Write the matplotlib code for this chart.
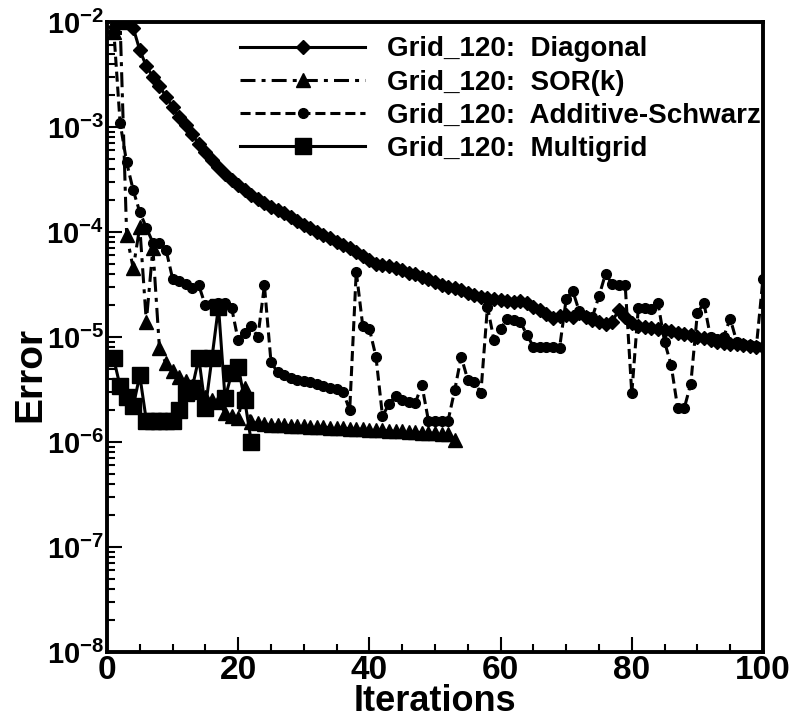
import matplotlib.pyplot as plt
import matplotlib.ticker as mticker
import numpy as np

plt.rcParams['font.family'] = ['Liberation Sans', 'DejaVu Sans']
plt.rcParams['font.weight'] = 'bold'
plt.rcParams['mathtext.fontset'] = 'custom'
plt.rcParams['mathtext.rm'] = 'Liberation Sans:bold'
plt.rcParams['mathtext.bf'] = 'Liberation Sans:bold'

# Grid_120: Diagonal, iterations 1..100
diagonal = [8.1e-3, 1.0e-2, 1.0e-2, 8.8e-3, 5.4e-3, 3.8e-3, 3.0e-3, 2.45e-3, 1.95e-3, 1.55e-3,
            1.25e-3, 1.05e-3, 8.5e-4, 6.9e-4, 5.8e-4, 4.8e-4, 4.15e-4, 3.6e-4, 3.15e-4, 2.8e-4,
            2.5e-4, 2.25e-4, 2.05e-4, 1.88e-4, 1.74e-4, 1.62e-4, 1.52e-4, 1.4e-4, 1.28e-4, 1.17e-4,
            1.08e-4, 1.01e-4, 9.4e-5, 8.8e-5, 8.1e-5, 7.6e-5, 7.1e-5, 6.5e-5, 5.9e-5, 5.4e-5,
            5.0e-5, 4.85e-5, 4.7e-5, 4.5e-5, 4.3e-5, 4.1e-5, 3.95e-5, 3.75e-5, 3.55e-5, 3.35e-5,
            3.15e-5, 3.0e-5, 2.9e-5, 2.8e-5, 2.65e-5, 2.5e-5, 2.4e-5, 2.35e-5, 2.3e-5, 2.25e-5,
            2.2e-5, 2.15e-5, 2.2e-5, 2.1e-5, 1.95e-5, 1.8e-5, 1.65e-5, 1.52e-5, 1.6e-5, 1.62e-5,
            1.55e-5, 1.68e-5, 1.55e-5, 1.45e-5, 1.38e-5, 1.32e-5, 1.4e-5, 1.8e-5, 1.55e-5, 1.35e-5,
            1.28e-5, 1.25e-5, 1.22e-5, 1.2e-5, 1.16e-5, 1.13e-5, 1.1e-5, 1.07e-5, 1.04e-5, 1.0e-5,
            9.7e-6, 9.3e-6, 9.0e-6, 8.8e-6, 8.6e-6, 8.5e-6, 8.3e-6, 8.2e-6, 8.1e-6, 8.0e-6]

# Grid_120: SOR(k), iterations 1..53
sor = [8.0e-3, 1.0e-2, 9.4e-5, 4.5e-5, 1.12e-4, 1.4e-5, 7.0e-5, 7.8e-6, 5.6e-6, 4.7e-6,
       4.2e-6, 3.8e-6, 3.4e-6, 3.0e-6, 2.7e-6, 2.5e-6, 2.4e-6, 1.9e-6, 1.75e-6, 1.7e-6,
       3.3e-6, 1.55e-6, 1.5e-6, 1.48e-6, 1.46e-6, 1.45e-6, 1.44e-6, 1.43e-6, 1.42e-6, 1.41e-6,
       1.4e-6, 1.39e-6, 1.38e-6, 1.37e-6, 1.36e-6, 1.35e-6, 1.34e-6, 1.33e-6, 1.32e-6, 1.31e-6,
       1.3e-6, 1.29e-6, 1.28e-6, 1.27e-6, 1.26e-6, 1.25e-6, 1.24e-6, 1.23e-6, 1.22e-6, 1.21e-6,
       1.2e-6, 1.2e-6, 1.05e-6]

# Grid_120: Additive-Schwarz, iterations 1..100
schwarz = [9.0e-3, 1.1e-3, 4.6e-4, 2.5e-4, 1.55e-4, 1.1e-4, 7.9e-5, 7.9e-5, 6.8e-5, 3.6e-5,
           3.4e-5, 3.2e-5, 2.9e-5, 3.1e-5, 2.0e-5, 2.05e-5, 2.1e-5, 2.1e-5, 1.9e-5, 9.3e-6,
           1.1e-5, 1.26e-5, 1.0e-5, 3.1e-5, 5.8e-6, 4.6e-6, 4.3e-6, 4.1e-6, 3.9e-6, 3.8e-6,
           3.7e-6, 3.6e-6, 3.4e-6, 3.3e-6, 3.2e-6, 3.0e-6, 2.0e-6, 4.2e-5, 1.26e-5, 1.2e-5,
           6.5e-6, 1.77e-6, 2.3e-6, 2.75e-6, 2.5e-6, 2.4e-6, 2.35e-6, 3.5e-6, 1.6e-6, 1.6e-6,
           1.6e-6, 1.6e-6, 3.1e-6, 6.5e-6, 3.9e-6, 3.7e-6, 2.95e-6, 1.94e-5, 9.3e-6, 1.2e-5,
           1.5e-5, 1.45e-5, 1.4e-5, 1.05e-5, 8.1e-6, 8.1e-6, 8.1e-6, 8.1e-6, 7.9e-6, 2.3e-5,
           2.75e-5, 1.75e-5, 1.6e-5, 1.55e-5, 2.45e-5, 4.0e-5, 3.2e-5, 3.1e-5, 3.1e-5, 2.9e-6,
           1.9e-5, 1.9e-5, 1.85e-5, 2.1e-5, 9.0e-6, 5.4e-6, 2.1e-6, 2.1e-6, 3.6e-6, 1.7e-5,
           2.1e-5, 1.0e-5, 9.5e-6, 1.0e-5, 1.5e-5, 9.0e-6, 8.5e-6, 8.3e-6, 8.2e-6, 3.6e-5]

# Grid_120: Multigrid, iterations 1..22
multigrid = [6.3e-6, 3.4e-6, 2.7e-6, 2.2e-6, 4.3e-6, 1.6e-6, 1.6e-6, 1.6e-6, 1.6e-6, 1.6e-6,
             2.0e-6, 2.9e-6, 3.3e-6, 6.3e-6, 2.1e-6, 6.3e-6, 1.95e-5, 2.6e-6, 4.5e-6, 5.2e-6,
             2.5e-6, 1.0e-6]

decades = [-8, -7, -6, -5, -4, -3, -2]

it_diag = np.arange(1, len(diagonal) + 1)
it_sor = np.arange(1, len(sor) + 1)
it_as = np.arange(1, len(schwarz) + 1)
it_mg = np.arange(1, len(multigrid) + 1)

fig = plt.figure(figsize=(7.9, 7.22), dpi=100)
ax = fig.add_axes([0.1354, 0.097, 0.8304, 0.8725])

lw = 2.2
ax.plot(it_diag, diagonal, color='black', lw=lw, marker='D', ms=7.5,
        label='Grid_120:  Diagonal')
ax.plot(it_sor, sor, color='black', lw=lw, marker='^', ms=10,
        dashes=[4.9, 2, 1.3, 2], label='Grid_120:  SOR(k)')
ax.plot(it_as, schwarz, color='black', lw=lw, marker='o', ms=7,
        dashes=[3.3, 1.6], label='Grid_120:  Additive-Schwarz')
ax.plot(it_mg, multigrid, color='black', lw=lw, marker='s', ms=11.5,
        label='Grid_120:  Multigrid')

ax.set_yscale('log')
ax.set_xlim(0, 100)
ax.set_ylim(1e-8, 1e-2)

ax.xaxis.set_major_locator(mticker.MultipleLocator(20))
ax.xaxis.set_minor_locator(mticker.MultipleLocator(5))
ax.yaxis.set_major_locator(mticker.FixedLocator([10.0 ** d for d in decades]))
minor_y = [m * 10.0 ** d for d in decades[:-1] for m in range(2, 10)]
ax.yaxis.set_minor_locator(mticker.FixedLocator(minor_y))
ax.yaxis.set_minor_formatter(mticker.NullFormatter())
ax.yaxis.set_major_formatter(mticker.FixedFormatter([r'$10^{%d}$' % d for d in decades]))

ax.tick_params(which='both', direction='in', top=False, right=False, width=1.5)
ax.tick_params(which='major', length=11)
ax.tick_params(which='minor', length=6)
ax.tick_params(axis='y', labelsize=21, pad=2)
ax.tick_params(axis='x', labelsize=24, pad=2)

for sp in ax.spines.values():
    sp.set_linewidth(2.8)

ax.set_xlabel('Iterations', fontsize=26, fontweight='bold', labelpad=-1)
ax.set_ylabel('Error', fontsize=28, fontweight='bold')
ax.yaxis.set_label_coords(-0.09, 0.44)

ax.legend(loc='upper left', bbox_to_anchor=(0.186, 0.995), frameon=False,
          numpoints=1, handlelength=4.5, labelspacing=0.26,
          handletextpad=0.8, borderaxespad=0.0, borderpad=0.4,
          prop={'weight': 'bold', 'size': 20})

fig.savefig('out.png', dpi=100)
